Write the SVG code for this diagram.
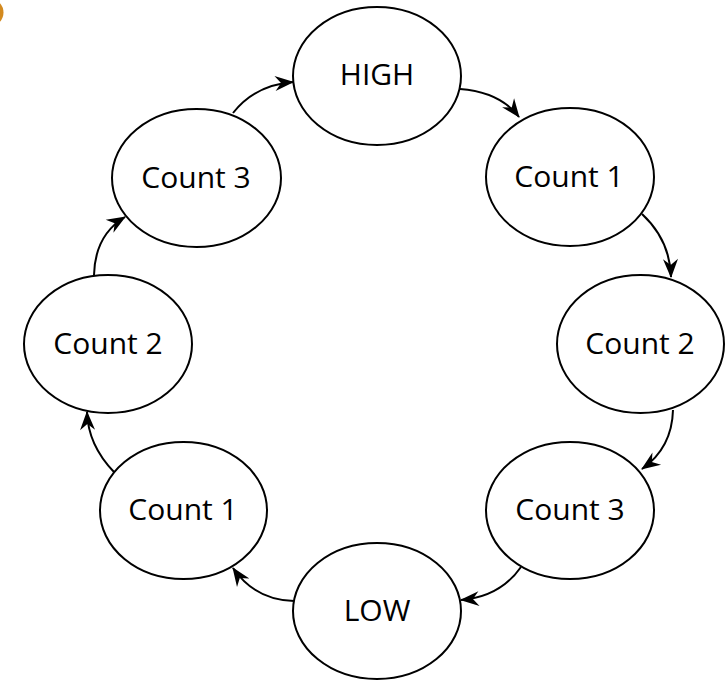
<svg xmlns="http://www.w3.org/2000/svg" width="725" height="681" viewBox="0 0 725 681">
  <style>
    .state ellipse { fill: #ffffff; stroke: #000000; stroke-width: 2; }
    .state text { font-family: "Open Sans", "Noto Sans", sans-serif; font-size: 30px; fill: #000000; text-anchor: middle; }
    .edge { fill: none; stroke: #000000; stroke-width: 2; marker-end: url(#arrow); }
  </style>
  <defs>
    <marker id="arrow" viewBox="-19 -9 21 18" markerWidth="21" markerHeight="18" refX="0" refY="0" orient="auto" markerUnits="userSpaceOnUse">
      <path d="M1,0 L-18,-7.5 L-12,0 L-18,7.5 Z" fill="#000000"/>
    </marker>
  </defs>

  <rect width="725" height="681" fill="#ffffff"/>

  <!-- corner badge -->
  <circle cx="-10.5" cy="12.5" r="14" fill="#d38a1f"/>

  <g id="connectors">
    <path class="edge" d="M460,89 Q500,92 519,117"/>
    <path class="edge" d="M642,214 Q670,240 671,277"/>
    <path class="edge" d="M673,410 Q672,448 642,469"/>
    <path class="edge" d="M521,567 Q500,597 461,600"/>
    <path class="edge" d="M294,601 Q255,600 233,568"/>
    <path class="edge" d="M114,472 Q88,445 87,412"/>
    <path class="edge" d="M94,275 Q95,235 125,217"/>
    <path class="edge" d="M233,113 Q255,85 293,82"/>
  </g>

  <g id="high" class="state">
    <ellipse cx="377" cy="76" rx="84" ry="69"/>
    <text x="377" y="85">HIGH</text>
  </g>
  <g id="count1-right" class="state">
    <ellipse cx="570" cy="177" rx="84" ry="69"/>
    <text x="569" y="187">Count 1</text>
  </g>
  <g id="count2-right" class="state">
    <ellipse cx="640.5" cy="344" rx="83.5" ry="69"/>
    <text x="640" y="354">Count 2</text>
  </g>
  <g id="count3-right" class="state">
    <ellipse cx="570" cy="510.5" rx="84" ry="68.5"/>
    <text x="570" y="520">Count 3</text>
  </g>
  <g id="low" class="state">
    <ellipse cx="377" cy="611" rx="84" ry="68"/>
    <text x="377" y="621">LOW</text>
  </g>
  <g id="count1-left" class="state">
    <ellipse cx="183.5" cy="510.5" rx="83.5" ry="68.5"/>
    <text x="183" y="520">Count 1</text>
  </g>
  <g id="count2-left" class="state">
    <ellipse cx="108" cy="344" rx="84" ry="69"/>
    <text x="108" y="354">Count 2</text>
  </g>
  <g id="count3-left" class="state">
    <ellipse cx="196.5" cy="178" rx="84.5" ry="69"/>
    <text x="196" y="188">Count 3</text>
  </g>
</svg>
